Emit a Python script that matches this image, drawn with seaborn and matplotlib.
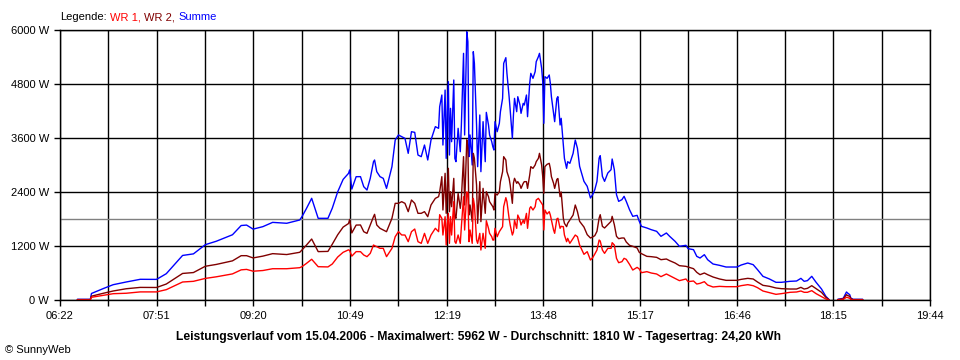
import numpy as np
import pandas as pd
import matplotlib
matplotlib.use("Agg")
import matplotlib.pyplot as plt
import seaborn as sns

times = [
    "06:38", "06:50", "06:51", "07:02", "07:11", "07:23", "07:36", "07:51", "08:00", "08:08",
    "08:15", "08:25", "08:36", "08:46", "09:01", "09:09", "09:14", "09:20", "09:29", "09:38",
    "09:51", "10:03", "10:05", "10:09", "10:14", "10:20", "10:29", "10:33", "10:38", "10:43",
    "10:48", "10:49", "10:51", "10:55", "10:59", "11:02", "11:05", "11:08", "11:11", "11:12",
    "11:14", "11:17", "11:20", "11:23", "11:28", "11:31", "11:34", "11:37", "11:40", "11:43",
    "11:46", "11:49", "11:52", "11:55", "11:58", "12:01", "12:04", "12:08", "12:11", "12:12",
    "12:14", "12:15", "12:17", "12:18", "12:19", "12:20", "12:21", "12:22", "12:23", "12:25",
    "12:26", "12:27", "12:29", "12:31", "12:32", "12:34", "12:35", "12:37", "12:38", "12:39",
    "12:40", "12:42", "12:43", "12:44", "12:46", "12:47", "12:49", "12:50", "12:52", "12:54",
    "12:55", "12:57", "12:58", "13:00", "13:01", "13:02", "13:03", "13:05", "13:07", "13:08",
    "13:10", "13:11", "13:13", "13:14", "13:16", "13:17", "13:19", "13:20", "13:21", "13:23",
    "13:24", "13:26", "13:27", "13:29", "13:30", "13:32", "13:33", "13:35", "13:36", "13:38",
    "13:40", "13:41", "13:43", "13:44", "13:46", "13:47", "13:48", "13:49", "13:51", "13:53",
    "13:54", "13:55", "13:57", "13:58", "14:00", "14:01", "14:03", "14:04", "14:06", "14:07",
    "14:09", "14:10", "14:12", "14:15", "14:17", "14:19", "14:21", "14:25", "14:28", "14:31",
    "14:33", "14:35", "14:37", "14:39", "14:40", "14:42", "14:44", "14:47", "14:50", "14:51",
    "14:53", "14:55", "14:57", "15:00", "15:02", "15:04", "15:07", "15:10", "15:14", "15:16",
    "15:18", "15:23", "15:27", "15:32", "15:36", "15:41", "15:44", "15:49", "15:53", "15:59",
    "16:01", "16:06", "16:09", "16:12", "16:16", "16:19", "16:24", "16:30", "16:36", "16:46",
    "16:50", "16:56", "17:01", "17:05", "17:10", "17:16", "17:22", "17:27", "17:35", "17:41",
    "17:45", "17:48", "17:51", "17:55", "17:59", "18:04", "18:08", "18:11",
    "18:19", "18:24", "18:27", "18:28", "18:30", "18:31", "18:33", "18:42",
]
wr1 = [
    5, 5, 60, 105, 140, 150, 180, 180, 230, 320,
    400, 415, 480, 515, 580, 670, 680, 640, 655, 695,
    695, 718, 740, 810, 905, 740, 735, 800, 955, 1060,
    1115, 1100, 975, 1075, 1074, 1000, 963, 1036, 1222, 1207,
    1185, 1148, 1148, 963, 1148, 1407, 1519, 1445, 1444, 1296,
    1518, 1577, 1296, 1259, 1481, 1259, 1444, 1593, 1519, 1896,
    1814, 1444, 1851, 1222, 1704, 1926, 1259, 1852, 1444, 2186,
    1296, 1259, 1445, 1259, 1630, 2296, 1556, 2402, 2370, 1296,
    1556, 1259, 2259, 2111, 1334, 1259, 1481, 1111, 1482, 1148,
    1763, 1593, 1482, 1407, 1333, 1333, 1593, 1407, 1519, 1555,
    1630, 2074, 2274, 2185, 1814, 1667, 1444, 1511, 1777, 1592,
    1888, 1778, 1667, 1777, 1703, 1925, 1593, 2037, 2074, 2000,
    2074, 2222, 2259, 2222, 2148, 2111, 1556, 2000, 1911, 1963,
    1889, 1777, 1555, 1482, 1800, 1818, 1593, 1637, 1629, 1444,
    1296, 1370, 1259, 1370, 1444, 1407, 1222, 1015, 1074, 889,
    940, 1022, 1111, 1333, 1311, 1111, 1037, 1148, 1148, 1274,
    1222, 925, 829, 852, 926, 903, 792, 666, 725, 689,
    607, 630, 600, 578, 519, 578, 541, 482, 430, 467,
    408, 422, 355, 370, 407, 333, 289, 303, 296, 296,
    319, 341, 318, 274, 200, 163, 126, 141, 171, 178,
    200, 171, 171, 208, 141, 74, 22, 2,
    5, 15, 60, 55, 37, 14, 5, 5,
]
wr2 = [
    10, 10, 85, 150, 200, 250, 280, 278, 355, 480,
    590, 610, 750, 790, 870, 985, 985, 935, 975, 1030,
    1010, 1060, 1110, 1215, 1355, 1075, 1080, 1240, 1450, 1620,
    1700, 1790, 1490, 1665, 1667, 1518, 1481, 1667, 1852, 1904,
    1667, 1593, 1555, 1518, 1815, 2148, 2148, 2185, 2148, 1963,
    2222, 2148, 1926, 1926, 1963, 1852, 2111, 2259, 2296, 2400,
    2741, 2000, 2815, 1926, 2481, 2926, 1963, 2407, 2074, 2703,
    1852, 1815, 2370, 2037, 2259, 3185, 2111, 3560, 3370, 1889,
    2111, 1741, 3259, 3148, 2555, 1704, 2630, 1741, 2481, 1926,
    2407, 2296, 2185, 2111, 2074, 2000, 2370, 2333, 2407, 2630,
    2851, 3185, 3111, 2852, 2704, 2555, 2148, 2600, 2704, 2593,
    2630, 2555, 2481, 2593, 2630, 2630, 2481, 2778, 2963, 2926,
    3000, 3074, 3148, 3259, 3000, 2741, 2370, 2963, 3015, 3037,
    2926, 2741, 2593, 2481, 2680, 2700, 2296, 2400, 1815, 1704,
    1630, 1704, 1778, 1889, 2111, 1963, 1748, 1622, 1452, 1378,
    1400, 1430, 1526, 1822, 1896, 1637, 1600, 1674, 1748, 1859,
    1674, 1415, 1363, 1378, 1378, 1289, 1215, 1193, 1156, 1059,
    1030, 970, 963, 948, 896, 911, 874, 822, 763, 748,
    733, 696, 615, 563, 600, 563, 511, 467, 437, 437,
    459, 481, 467, 400, 326, 304, 267, 252, 244, 244,
    281, 244, 259, 318, 252, 170, 59, 5,
    10, 22, 118, 100, 81, 30, 10, 10,
]
tail_start = "18:19"  # Datenluecke zwischen 18:11 und 18:19

tick_labels = ["06:22", "07:51", "09:20", "10:49", "12:19", "13:48", "15:17", "16:46", "18:15", "19:44"]
y_ticks = [0, 1200, 2400, 3600, 4800, 6000]
average = 1810
title = ("Leistungsverlauf vom 15.04.2006 - Maximalwert: 5962 W - "
         "Durchschnitt: 1810 W - Tagesertrag: 24,20 kWh")

colors = {"Summe": "#0000FF", "WR 2": "#800000", "WR 1": "#FF0000"}

df = pd.DataFrame({"Zeit": times, "WR 1": wr1, "WR 2": wr2})
df["Summe"] = df["WR 1"] + df["WR 2"]
df["Minute"] = pd.to_timedelta(df["Zeit"] + ":00").dt.total_seconds() / 60
df["Abschnitt"] = np.where(df["Zeit"] >= tail_start, 2, 1)
long = df.melt(id_vars=["Minute", "Abschnitt"], value_vars=["Summe", "WR 2", "WR 1"],
               var_name="Reihe", value_name="Leistung")

sns.set_style("white")
plt.rcParams['font.family'] = ['Liberation Sans', 'DejaVu Sans']
plt.rcParams['text.color'] = 'black'

fig = plt.figure(figsize=(9.6, 3.6), dpi=100)
ax = fig.add_axes([60 / 960, 60 / 360, 870 / 960, 270 / 360])

sns.lineplot(data=long, x="Minute", y="Leistung", hue="Reihe", units="Abschnitt",
             estimator=None, palette=colors, hue_order=["Summe", "WR 2", "WR 1"],
             linewidth=1, legend=False, sort=False, ax=ax)
ax.axhline(average, color="#808080", linewidth=1, zorder=1.5)

t_start = pd.to_timedelta(tick_labels[0] + ":00").total_seconds() / 60
t_end = pd.to_timedelta(tick_labels[-1] + ":00").total_seconds() / 60
ax.set_xlim(t_start, t_end)
ax.set_ylim(0, 6000)
ax.set_xticks(np.linspace(t_start, t_end, len(tick_labels)))
ax.set_xticklabels(tick_labels)
ax.set_xticks(np.linspace(t_start, t_end, 2 * len(tick_labels) - 1), minor=True)
ax.set_yticks(y_ticks)
ax.set_yticklabels([f"{v} W" for v in y_ticks])
ax.set_xlabel("")
ax.set_ylabel("")

ax.set_axisbelow(True)
ax.grid(True, which="both", axis="x", color="black", linewidth=1)
ax.grid(True, which="major", axis="y", color="black", linewidth=1)
ax.tick_params(which="both", bottom=True, left=True, direction="out", length=4,
               width=1, color="black", labelcolor="black", labelsize=8, pad=4)
for s in ax.spines.values():
    s.set_color("black")
    s.set_linewidth(1)

# Legende als farbiger Text
t0 = fig.text(60 / 960, (360 - 17) / 360, "Legende:", fontsize=8, va="center", ha="left")
prev = t0
for name in ["WR 1", "WR 2", "Summe"]:
    label = name if name == "Summe" else name + ","
    prev = ax.annotate(label, xy=(1, 0), xycoords=prev, xytext=(2.5, 0),
                       textcoords="offset points", va="bottom", ha="left",
                       fontsize=8, color=colors[name], annotation_clip=False)

fig.text(479 / 960, (360 - 337) / 360, title, fontsize=8.7, fontweight="bold",
         ha="center", va="center")
fig.text(5 / 960, (360 - 350) / 360, "\u00a9 SunnyWeb", fontsize=8, ha="left", va="center")

fig.savefig("out.png", dpi=100)
